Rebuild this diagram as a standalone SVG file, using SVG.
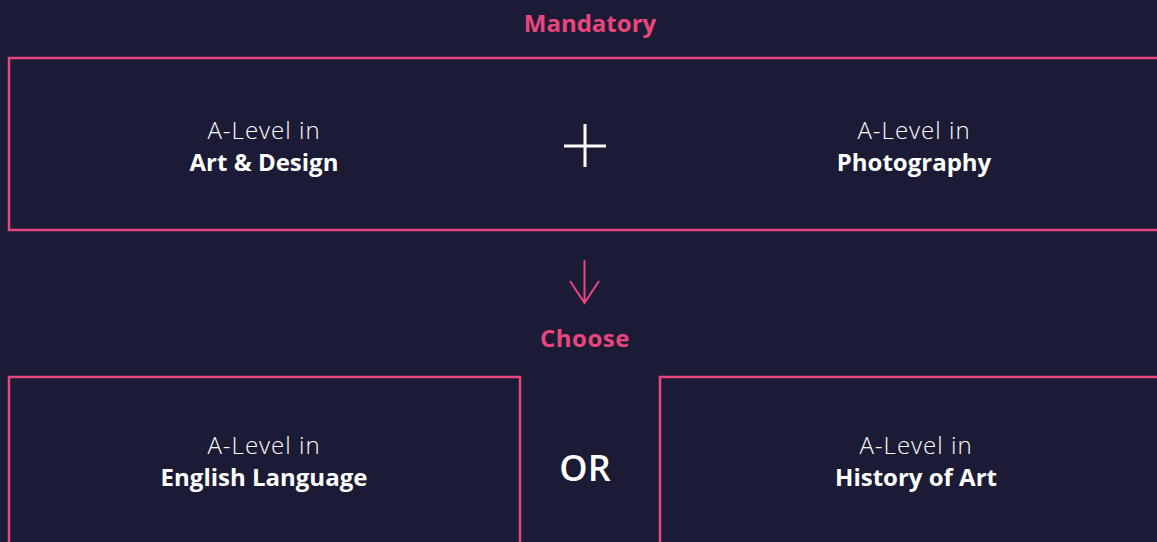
<svg xmlns="http://www.w3.org/2000/svg" width="1157" height="542" viewBox="0 0 1157 542">
<style>
.box{fill:none;stroke:#e8467c;stroke-width:2.5}
.lt{font-family:"Open Sans",Lato,sans-serif;font-size:24px;font-weight:300;letter-spacing:1px;fill:#ffffff;text-anchor:middle}
.bd{font-family:"Open Sans",Lato,sans-serif;font-size:24px;font-weight:700;fill:#ffffff;text-anchor:middle}
.hd{font-family:"Open Sans",Lato,sans-serif;font-size:24px;font-weight:700;fill:#e8467c;text-anchor:middle}
</style>
<rect width="1157" height="542" fill="#1c1b36"/>
<text class="hd" x="590" y="32">Mandatory</text>
<g id="mandatory">
<rect class="box" x="9" y="58" width="1160" height="172"/>
<g id="art-design"><text class="lt" x="264" y="139">A-Level in</text><text class="bd" x="264" y="171">Art &amp; Design</text></g>
<g id="plus"><path d="M585 124V167M564 146H606" stroke="#ffffff" stroke-width="3" fill="none"/></g>
<g id="photography"><text class="lt" x="914" y="139">A-Level in</text><text class="bd" x="914" y="171">Photography</text></g>
</g>
<g id="connectors">
<path d="M584.5 260V303M570 281L584.5 303L599 281" stroke="#e8467c" stroke-width="2" fill="none"/>
</g>
<text class="hd" x="585" y="347" letter-spacing="0.5">Choose</text>
<g id="english"><rect class="box" x="9" y="377" width="511" height="180"/><text class="lt" x="264" y="454">A-Level in</text><text class="bd" x="264" y="486">English Language</text></g>
<text x="585" y="481" font-family="'Open Sans',Lato,sans-serif" font-size="36" font-weight="600" fill="#ffffff" text-anchor="middle">OR</text>
<g id="history"><rect class="box" x="660" y="377" width="520" height="180"/><text class="lt" x="916" y="454">A-Level in</text><text class="bd" x="916" y="486">History of Art</text></g>
</svg>
